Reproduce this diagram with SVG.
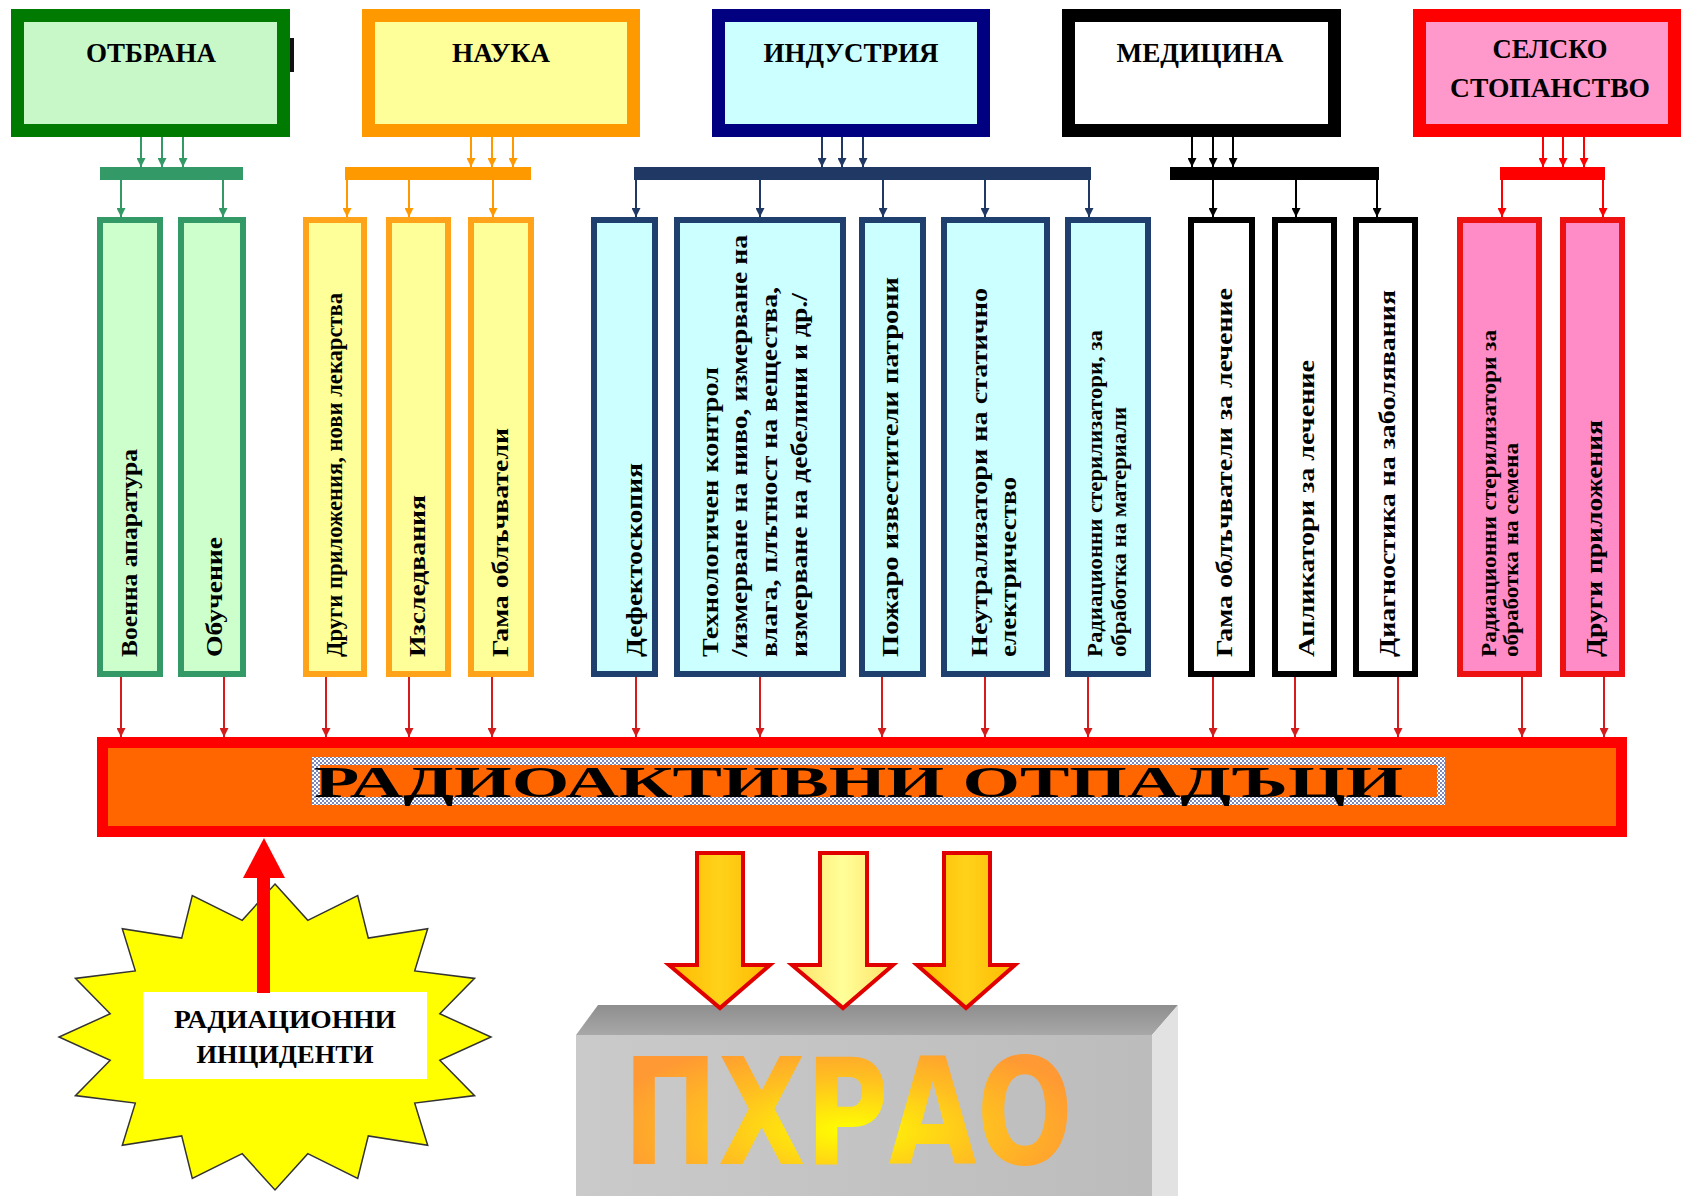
<svg xmlns="http://www.w3.org/2000/svg" width="1683" height="1196" viewBox="0 0 1683 1196">
<style>
.lbl{font-family:"Liberation Serif","Times New Roman",serif;font-weight:bold;fill:#000}
.top{font-size:27px;text-anchor:middle}
.vt{font-size:24px}
.vs{font-size:21px}
.ln{stroke-width:2;fill:none}
.tb{stroke-width:13}
.cb{stroke-width:6}
</style>
<defs>
<marker id="ah-g" viewBox="0 0 10 10" refX="10" refY="5" markerWidth="9" markerHeight="9" markerUnits="userSpaceOnUse" orient="auto"><path d="M0,0 L10,5 L0,10 z" fill="#339966"/></marker>
<marker id="ah-o" viewBox="0 0 10 10" refX="10" refY="5" markerWidth="9" markerHeight="9" markerUnits="userSpaceOnUse" orient="auto"><path d="M0,0 L10,5 L0,10 z" fill="#ff9900"/></marker>
<marker id="ah-b" viewBox="0 0 10 10" refX="10" refY="5" markerWidth="9" markerHeight="9" markerUnits="userSpaceOnUse" orient="auto"><path d="M0,0 L10,5 L0,10 z" fill="#1f3864"/></marker>
<marker id="ah-k" viewBox="0 0 10 10" refX="10" refY="5" markerWidth="9" markerHeight="9" markerUnits="userSpaceOnUse" orient="auto"><path d="M0,0 L10,5 L0,10 z" fill="#000"/></marker>
<marker id="ah-r" viewBox="0 0 10 10" refX="10" refY="5" markerWidth="9" markerHeight="9" markerUnits="userSpaceOnUse" orient="auto"><path d="M0,0 L10,5 L0,10 z" fill="#ff0000"/></marker>
<marker id="ah-d" viewBox="0 0 10 10" refX="10" refY="5" markerWidth="10" markerHeight="9" markerUnits="userSpaceOnUse" orient="auto"><path d="M0,0 L10,5 L0,10 z" fill="#d41c1c"/></marker>
<pattern id="dots" width="4" height="4" patternUnits="userSpaceOnUse"><rect width="4" height="4" fill="#7c88b8"/><rect width="2" height="2" fill="#ffffff"/><rect x="2" y="2" width="2" height="2" fill="#ffffff"/></pattern>
<linearGradient id="gArrow" x1="0" y1="0" x2="1" y2="0"><stop offset="0" stop-color="#ffb800"/><stop offset="0.5" stop-color="#ffd21a"/><stop offset="1" stop-color="#ffb800"/></linearGradient>
<linearGradient id="gArrowL" x1="0" y1="0" x2="1" y2="0"><stop offset="0" stop-color="#ffe066"/><stop offset="0.5" stop-color="#ffff99"/><stop offset="1" stop-color="#ffe066"/></linearGradient>
<radialGradient id="gText" cx="0.5" cy="0.6" r="0.55"><stop offset="0" stop-color="#ffff00"/><stop offset="0.55" stop-color="#ffc020"/><stop offset="1" stop-color="#ff9933"/></radialGradient>
<linearGradient id="gTopFace" x1="0" y1="0" x2="0" y2="1"><stop offset="0" stop-color="#8e8e8e"/><stop offset="1" stop-color="#a8a8a8"/></linearGradient>
<linearGradient id="gFront" x1="0" y1="0" x2="1" y2="0"><stop offset="0" stop-color="#cacaca"/><stop offset="1" stop-color="#bcbcbc"/></linearGradient>
</defs>
<rect width="1683" height="1196" fill="#ffffff"/>

<!-- top category boxes -->
<g id="otbrana">
<rect class="tb" x="17.5" y="15.5" width="266" height="115" fill="#c8f7c8" stroke="#007a00"/>
<rect x="290" y="38" width="4" height="34" fill="#111"/>
<text class="lbl top" x="151" y="62" textLength="130" lengthAdjust="spacingAndGlyphs">ОТБРАНА</text>
</g>
<g id="nauka">
<rect class="tb" x="368.5" y="15.5" width="265" height="115" fill="#ffff99" stroke="#ff9900"/>
<text class="lbl top" x="501" y="62" textLength="98" lengthAdjust="spacingAndGlyphs">НАУКА</text>
</g>
<g id="industria">
<rect class="tb" x="718.5" y="15.5" width="265" height="115" fill="#ccffff" stroke="#000080"/>
<text class="lbl top" x="851" y="62" textLength="175" lengthAdjust="spacingAndGlyphs">ИНДУСТРИЯ</text>
</g>
<g id="medicina">
<rect class="tb" x="1068.5" y="15.5" width="266" height="115" fill="#ffffff" stroke="#000000"/>
<text class="lbl top" x="1200" y="62" textLength="167" lengthAdjust="spacingAndGlyphs">МЕДИЦИНА</text>
</g>
<g id="selsko">
<rect class="tb" x="1419.5" y="15.5" width="255" height="115" fill="#ff99cc" stroke="#ff0000"/>
<text class="lbl top" x="1550" y="58" textLength="115" lengthAdjust="spacingAndGlyphs">СЕЛСКО</text>
<text class="lbl top" x="1550" y="97" textLength="200" lengthAdjust="spacingAndGlyphs">СТОПАНСТВО</text>
</g>

<!-- child boxes -->
<g id="voenna">
<rect class="cb" x="100" y="220" width="60" height="454" fill="#ccffcc" stroke="#339966"/>
<text class="lbl vt" transform="translate(137,657) rotate(-90)" textLength="208" lengthAdjust="spacingAndGlyphs">Военна апаратура</text>
</g>
<g id="obuchenie">
<rect class="cb" x="181" y="220" width="62" height="454" fill="#ccffcc" stroke="#339966"/>
<text class="lbl vt" transform="translate(222,657) rotate(-90)" textLength="120" lengthAdjust="spacingAndGlyphs">Обучение</text>
</g>
<g id="drugi-nauka">
<rect class="cb" x="306" y="220" width="58" height="454" fill="#ffff99" stroke="#ffa31a"/>
<text class="lbl vt" transform="translate(342,657) rotate(-90)" textLength="364" lengthAdjust="spacingAndGlyphs">Други приложения, нови лекарства</text>
</g>
<g id="izsledvania">
<rect class="cb" x="389" y="220" width="59" height="454" fill="#ffff99" stroke="#ffa31a"/>
<text class="lbl vt" transform="translate(425,657) rotate(-90)" textLength="162" lengthAdjust="spacingAndGlyphs">Изследвания</text>
</g>
<g id="gama-nauka">
<rect class="cb" x="471" y="220" width="60" height="454" fill="#ffff99" stroke="#ffa31a"/>
<text class="lbl vt" transform="translate(508,657) rotate(-90)" textLength="229" lengthAdjust="spacingAndGlyphs">Гама облъчватели</text>
</g>
<g id="defektoskopia">
<rect class="cb" x="594" y="220" width="61" height="454" fill="#ccffff" stroke="#1f3f6f"/>
<text class="lbl vt" transform="translate(642,657) rotate(-90)" textLength="194" lengthAdjust="spacingAndGlyphs">Дефектоскопия</text>
</g>
<g id="tehnologichen">
<rect class="cb" x="677" y="220" width="166" height="454" fill="#ccffff" stroke="#1f3f6f"/>
<text class="lbl vt" transform="translate(718,657) rotate(-90)" textLength="290" lengthAdjust="spacingAndGlyphs">Технологичен контрол</text>
<text class="lbl vt" transform="translate(747,657) rotate(-90)" textLength="422" lengthAdjust="spacingAndGlyphs">/измерване на ниво, измерване на</text>
<text class="lbl vt" transform="translate(777,657) rotate(-90)" textLength="370" lengthAdjust="spacingAndGlyphs">влага, плътност на вещества,</text>
<text class="lbl vt" transform="translate(807,657) rotate(-90)" textLength="364" lengthAdjust="spacingAndGlyphs">измерване на дебелини и др./</text>
</g>
<g id="pozharo">
<rect class="cb" x="862" y="220" width="61" height="454" fill="#ccffff" stroke="#1f3f6f"/>
<text class="lbl vt" transform="translate(898,657) rotate(-90)" textLength="380" lengthAdjust="spacingAndGlyphs">Пожаро известители патрони</text>
</g>
<g id="neutralizatori">
<rect class="cb" x="944" y="220" width="103" height="454" fill="#ccffff" stroke="#1f3f6f"/>
<text class="lbl vt" transform="translate(987,657) rotate(-90)" textLength="369" lengthAdjust="spacingAndGlyphs">Неутрализатори  на статично</text>
<text class="lbl vt" transform="translate(1016,657) rotate(-90)" textLength="180" lengthAdjust="spacingAndGlyphs">електричество</text>
</g>
<g id="sterilizatori-materiali">
<rect class="cb" x="1068" y="220" width="80" height="454" fill="#ccffff" stroke="#1f3f6f"/>
<text class="lbl vs" transform="translate(1102,657) rotate(-90)" textLength="327" lengthAdjust="spacingAndGlyphs">Радиационни стерилизатори, за</text>
<text class="lbl vs" transform="translate(1126,657) rotate(-90)" textLength="250" lengthAdjust="spacingAndGlyphs">обработка на материали</text>
</g>
<g id="gama-lechenie">
<rect class="cb" x="1191" y="220" width="61" height="454" fill="#ffffff" stroke="#000000"/>
<text class="lbl vt" transform="translate(1232,657) rotate(-90)" textLength="369" lengthAdjust="spacingAndGlyphs">Гама облъчватели за лечение</text>
</g>
<g id="aplikatori">
<rect class="cb" x="1275" y="220" width="59" height="454" fill="#ffffff" stroke="#000000"/>
<text class="lbl vt" transform="translate(1314,657) rotate(-90)" textLength="297" lengthAdjust="spacingAndGlyphs">Апликатори  за лечение</text>
</g>
<g id="diagnostika">
<rect class="cb" x="1356" y="220" width="59" height="454" fill="#ffffff" stroke="#000000"/>
<text class="lbl vt" transform="translate(1395,657) rotate(-90)" textLength="367" lengthAdjust="spacingAndGlyphs">Диагностика на заболявания</text>
</g>
<g id="sterilizatori-semena">
<rect class="cb" x="1460" y="220" width="79" height="454" fill="#ff8cc6" stroke="#ee1111"/>
<text class="lbl vs" transform="translate(1496,657) rotate(-90)" textLength="327" lengthAdjust="spacingAndGlyphs" fill="#2a0010">Радиационни стерилизатори за</text>
<text class="lbl vs" transform="translate(1518,657) rotate(-90)" textLength="214" lengthAdjust="spacingAndGlyphs" fill="#2a0010">обработка на семена</text>
</g>
<g id="drugi-selsko">
<rect class="cb" x="1563" y="220" width="59" height="454" fill="#ff8cc6" stroke="#ee1111"/>
<text class="lbl vt" transform="translate(1602,657) rotate(-90)" textLength="237" lengthAdjust="spacingAndGlyphs" fill="#2a0010">Други приложения</text>
</g>

<!-- ПХРАО block -->
<g id="phrao">
<polygon points="598,1005 1178,1005 1152,1035 576,1035" fill="url(#gTopFace)"/>
<rect x="576" y="1035" width="576" height="161" fill="url(#gFront)"/>
<polygon points="1152,1035 1178,1005 1178,1196 1152,1196" fill="#e2e2e2"/>
<text x="623" y="1164" font-family="'Liberation Sans Narrow','DejaVu Sans Condensed','Liberation Sans',sans-serif" font-weight="bold" font-size="148" textLength="450" lengthAdjust="spacingAndGlyphs" fill="url(#gText)">ПХРАО</text>
</g>

<!-- big waste bar -->
<g id="otpadaci">
<rect x="102.5" y="742.5" width="1519" height="89" fill="#ff6600" stroke="#ff0000" stroke-width="11"/>
<rect x="316" y="761" width="1125" height="40" fill="none" stroke="url(#dots)" stroke-width="8"/>
<text class="lbl" x="314" y="797" font-size="44" textLength="1089" lengthAdjust="spacingAndGlyphs">РАДИОАКТИВНИ ОТПАДЪЦИ</text>
</g>

<!-- incidents starburst -->
<g id="incidenti">
<polygon points="275,884 307.8,920.3 357.7,895.6 368.3,938.1 427.7,928.8 414.7,970.9 474.6,978.4 439.8,1013.8 491,1037 439.8,1060.2 474.6,1095.6 414.7,1103.1 427.7,1145.2 368.3,1135.9 357.7,1178.4 307.8,1153.7 275,1190 242.2,1153.7 192.3,1178.4 181.7,1135.9 122.3,1145.2 135.3,1103.1 75.4,1095.6 110.2,1060.2 59,1037 110.2,1013.8 75.4,978.4 135.3,970.9 122.3,928.8 181.7,938.1 192.3,895.6 242.2,920.3" fill="#ffff00" stroke="#333333" stroke-width="1.5" stroke-linejoin="miter"/>
<rect x="143" y="992" width="284" height="87" fill="#ffffff"/>
<text class="lbl" x="285" y="1028" font-size="26" text-anchor="middle" textLength="222" lengthAdjust="spacingAndGlyphs">РАДИАЦИОННИ</text>
<text class="lbl" x="285" y="1063" font-size="26" text-anchor="middle" textLength="177" lengthAdjust="spacingAndGlyphs">ИНЦИДЕНТИ</text>
</g>

<!-- connectors -->
<g id="connectors">
<g stroke="#339966" class="ln" marker-end="url(#ah-g)">
<line x1="141" y1="137" x2="141" y2="167"/><line x1="162" y1="137" x2="162" y2="167"/><line x1="183" y1="137" x2="183" y2="167"/>
<line x1="121" y1="180" x2="121" y2="217"/><line x1="223" y1="180" x2="223" y2="217"/>
</g>
<rect x="100" y="167" width="143" height="13" fill="#339966"/>
<g stroke="#ff9900" class="ln" marker-end="url(#ah-o)">
<line x1="471" y1="137" x2="471" y2="167"/><line x1="492" y1="137" x2="492" y2="167"/><line x1="513" y1="137" x2="513" y2="167"/>
<line x1="347" y1="180" x2="347" y2="217"/><line x1="409" y1="180" x2="409" y2="217"/><line x1="493" y1="180" x2="493" y2="217"/>
</g>
<rect x="345" y="167" width="186" height="13" fill="#ff9900"/>
<g stroke="#1f3864" class="ln" marker-end="url(#ah-b)">
<line x1="822" y1="137" x2="822" y2="167"/><line x1="842" y1="137" x2="842" y2="167"/><line x1="863" y1="137" x2="863" y2="167"/>
<line x1="636" y1="180" x2="636" y2="217"/><line x1="760" y1="180" x2="760" y2="217"/><line x1="883" y1="180" x2="883" y2="217"/><line x1="985" y1="180" x2="985" y2="217"/><line x1="1089" y1="180" x2="1089" y2="217"/>
</g>
<rect x="634" y="167" width="457" height="13" fill="#1f3864"/>
<g stroke="#000000" class="ln" marker-end="url(#ah-k)">
<line x1="1192" y1="137" x2="1192" y2="167"/><line x1="1213" y1="137" x2="1213" y2="167"/><line x1="1233" y1="137" x2="1233" y2="167"/>
<line x1="1213" y1="180" x2="1213" y2="217"/><line x1="1296" y1="180" x2="1296" y2="217"/><line x1="1377" y1="180" x2="1377" y2="217"/>
</g>
<rect x="1170" y="167" width="209" height="13" fill="#000000"/>
<g stroke="#ff0000" class="ln" marker-end="url(#ah-r)">
<line x1="1543" y1="137" x2="1543" y2="167"/><line x1="1563" y1="137" x2="1563" y2="167"/><line x1="1584" y1="137" x2="1584" y2="167"/>
<line x1="1502" y1="180" x2="1502" y2="217"/><line x1="1603" y1="180" x2="1603" y2="217"/>
</g>
<rect x="1500" y="167" width="105" height="13" fill="#ff0000"/>
<g stroke="#d41c1c" class="ln" marker-end="url(#ah-d)">
<line x1="121" y1="677" x2="121" y2="737"/><line x1="224" y1="677" x2="224" y2="737"/><line x1="326" y1="677" x2="326" y2="737"/><line x1="409" y1="677" x2="409" y2="737"/><line x1="492" y1="677" x2="492" y2="737"/>
<line x1="636" y1="677" x2="636" y2="737"/><line x1="760" y1="677" x2="760" y2="737"/><line x1="882" y1="677" x2="882" y2="737"/><line x1="985" y1="677" x2="985" y2="737"/><line x1="1088" y1="677" x2="1088" y2="737"/>
<line x1="1213" y1="677" x2="1213" y2="737"/><line x1="1295" y1="677" x2="1295" y2="737"/><line x1="1398" y1="677" x2="1398" y2="737"/><line x1="1522" y1="677" x2="1522" y2="737"/><line x1="1604" y1="677" x2="1604" y2="737"/>
</g>
<rect x="257" y="876" width="13" height="117" fill="#ff0000"/>
<polygon points="264,838 285,878 243,878" fill="#ff0000"/>
<g stroke="#e00000" stroke-width="4" stroke-linejoin="miter">
<polygon points="697,853 743,853 743,965 770,965 720,1008 669,965 697,965" fill="url(#gArrow)"/>
<polygon points="820,853 867,853 867,965 893,965 843,1008 792,965 820,965" fill="url(#gArrowL)"/>
<polygon points="944,853 990,853 990,965 1015,965 966,1008 917,965 944,965" fill="url(#gArrow)"/>
</g>
</g>
</svg>
